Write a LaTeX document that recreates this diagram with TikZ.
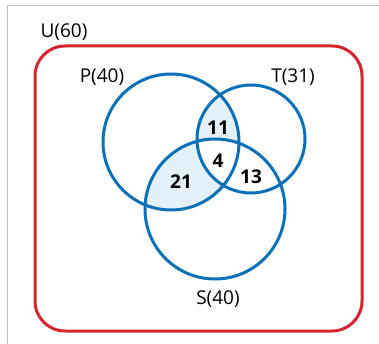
\documentclass[tikz,border=0pt]{standalone}
\usepackage{fontspec}
\setmainfont{Open Sans}
\definecolor{vblue}{HTML}{0A70B8}
\definecolor{vred}{HTML}{D5262E}
\definecolor{vshade}{HTML}{E2F1FA}
\tikzset{c/.style = {draw=vblue, line width=3pt},
    u/.style = {draw=vred, line width=3pt, rounded corners=30pt},
    l/.style = {font=\fontsize{19}{21}\selectfont, inner sep=0pt},
    n/.style = {font=\fontsize{19}{21}\selectfont\bfseries, inner sep=0pt}}

\begin{document}
\begin{tikzpicture}[x=1pt, y=-1pt]
        \useasboundingbox (0,0) rectangle (379,344);
        \draw[black!25, line width=1pt] (7,344) -- (7,6) -- (379,6);

        \coordinate (p) at (171,142);
        \coordinate (t) at (251,139);
        \coordinate (s) at (215,209);

        % shaded parts
        \begin{scope}
            \clip (p) circle (68);
            \fill[vshade] (t) circle (54);
            \fill[vshade] (s) circle (70);
            \clip (t) circle (54);
            \fill[white] (s) circle (70);
        \end{scope}

        \draw[u] (35,46) rectangle (362,331);
        \draw[c] (p) circle (68);
        \draw[c] (t) circle (54);
        \draw[c] (s) circle (70);

        \node[l] (U) at (64,32) {U(60)};
        \node[l] (P) at (102,77) {P(40)};
        \node[l] (T) at (293,77) {T(31)};
        \node[l] (S) at (218,299) {S(40)};
        \foreach \n/\x/\y/\t in {pt/218/128/11, pts/218/161/4, ps/181/182/21, ts/251/177/13}
            \node[n] (\n) at (\x,\y) {\t};
    \end{tikzpicture}
\end{document}
